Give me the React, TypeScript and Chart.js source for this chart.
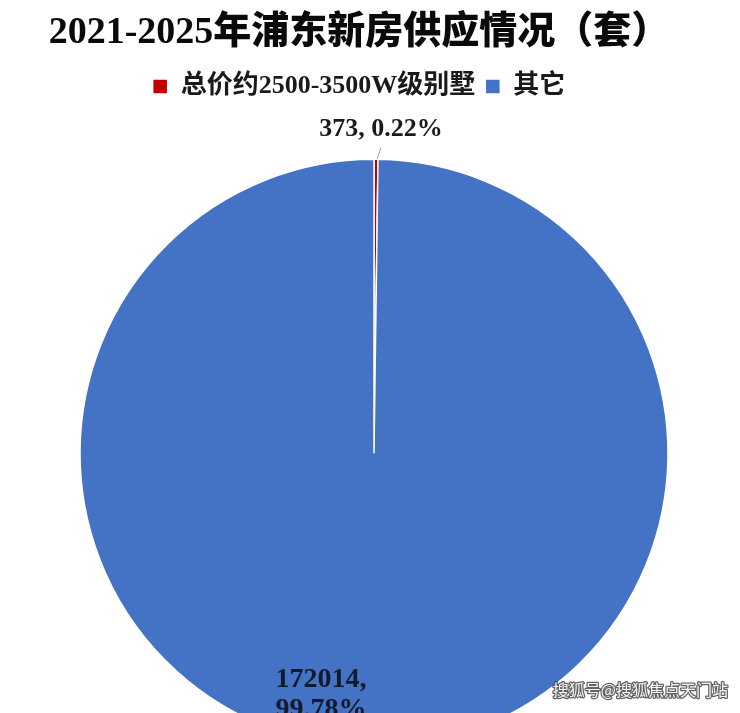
import React, { useEffect, useRef } from 'react';
import { Chart, registerables } from 'chart.js';

Chart.register(...registerables);

const TITLE = '2021-2025年浦东新房供应情况（套）';
const CATEGORIES = ['总价约2500-3500W级别墅', '其它'];
const UNITS = [373, 172014];
const COLORS = ['#C00000', '#4472C4'];
const WATERMARK = '搜狐号@搜狐焦点天门站';

const SERIF = "'Liberation Serif', 'Noto Sans CJK SC', serif";

const labelPlugin = {
  id: 'pieLabels',
  afterDatasetsDraw(chart: any) {
    const ctx = chart.ctx as CanvasRenderingContext2D;
    const meta = chart.getDatasetMeta(0);
    const total = UNITS.reduce((a, b) => a + b, 0);
    const pct = (v: number) => ((v / total) * 100).toFixed(2) + '%';

    // small slice: outside label with leader line
    const a0 = meta.data[0];
    const p0 = a0.getProps(['x', 'y', 'startAngle', 'endAngle', 'outerRadius'], true);
    const mid0 = (p0.startAngle + p0.endAngle) / 2;
    const ex = p0.x + Math.cos(mid0) * p0.outerRadius;
    const ey = p0.y + Math.sin(mid0) * p0.outerRadius;
    ctx.save();
    ctx.strokeStyle = '#a6a6a6';
    ctx.lineWidth = 1;
    ctx.beginPath();
    ctx.moveTo(ex + 1, ey);
    ctx.lineTo(ex + 5, ey - 12);
    ctx.stroke();
    ctx.font = `bold 26px ${SERIF}`;
    ctx.fillStyle = '#1a1a1a';
    ctx.textAlign = 'center';
    ctx.textBaseline = 'alphabetic';
    ctx.fillText(`${UNITS[0]}, ${pct(UNITS[0])}`, ex + 5, ey - 23);

    // large slice: inside label
    const a1 = meta.data[1];
    const p1 = a1.getProps(['x', 'y', 'startAngle', 'endAngle', 'outerRadius'], true);
    const mid1 = (p1.startAngle + p1.endAngle) / 2 + 0.21;
    const cx = p1.x + Math.cos(mid1) * p1.outerRadius * 0.84;
    const cy = p1.y + Math.sin(mid1) * p1.outerRadius * 0.84;
    ctx.font = `bold 28px ${SERIF}`;
    ctx.fillStyle = '#121a2e';
    ctx.textBaseline = 'middle';
    ctx.fillText(`${UNITS[1]},`, cx, cy - 15);
    ctx.fillText(pct(UNITS[1]), cx, cy + 15);

    // watermark
    ctx.font = "16px 'Noto Sans CJK SC', sans-serif";
    ctx.textAlign = 'right';
    ctx.lineJoin = 'round';
    ctx.strokeStyle = 'rgba(60,60,60,0.8)';
    ctx.lineWidth = 2.5;
    ctx.strokeText(WATERMARK, chart.width - 12, 690);
    ctx.fillStyle = '#f7f7f7';
    ctx.fillText(WATERMARK, chart.width - 12, 690);
    ctx.restore();
  },
};

export default function App() {
  const ref = useRef<HTMLCanvasElement>(null);

  useEffect(() => {
    if (!ref.current) return;
    const chart = new Chart(ref.current, {
      type: 'pie',
      data: {
        labels: CATEGORIES,
        datasets: [
          {
            data: UNITS,
            backgroundColor: COLORS,
            borderColor: '#ffffff',
            borderWidth: 1.5,
            hoverOffset: 0,
          },
        ],
      },
      options: {
        animation: false,
        responsive: true,
        maintainAspectRatio: false,
        events: [],
        radius: 294,
        layout: { padding: { left: 0, right: 22, top: 0, bottom: 0 } },
        plugins: {
          title: {
            display: true,
            text: TITLE,
            color: '#0a0a0a',
            font: { family: SERIF, size: 38, weight: 900, lineHeight: 1.2 },
            padding: { top: 10, bottom: 8 },
          },
          subtitle: {
            display: true,
            text: '',
            position: 'left',
            fullSize: false,
            font: { size: 10, lineHeight: 1.2 },
            padding: { top: 9, bottom: 9 },
          },
          legend: {
            display: true,
            position: 'top',
            labels: {
              boxWidth: 15,
              boxHeight: 15,
              padding: 10,
              color: '#1a1a1a',
              font: { family: SERIF, size: 26, weight: 'bold' },
            },
          },
          tooltip: { enabled: false },
        },
      } as any,
      plugins: [labelPlugin],
    });
    return () => chart.destroy();
  }, []);

  return (
    <div
      style={{
        position: 'absolute',
        left: 0,
        top: 0,
        width: 740,
        height: 713,
        overflow: 'hidden',
        background: '#ffffff',
      }}
    >
      <div style={{ position: 'relative', width: 740, height: 797 }}>
        <canvas ref={ref} />
      </div>
    </div>
  );
}
